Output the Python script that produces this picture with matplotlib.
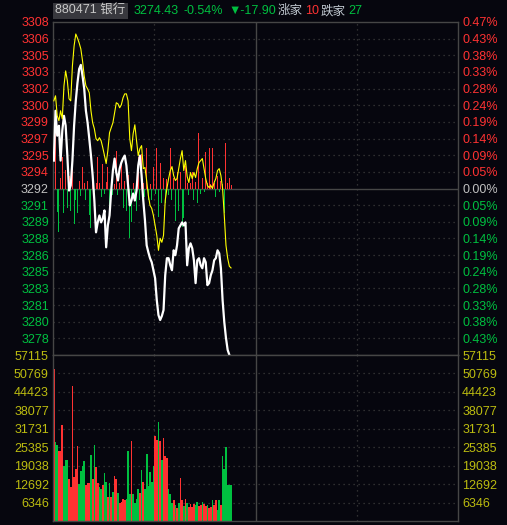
import numpy as np
import matplotlib.pyplot as plt
from matplotlib.patches import Rectangle

plt.rcParams['font.family'] = ['Liberation Sans', 'Noto Sans CJK SC', 'DejaVu Sans']

# header / scale info
code_name = "880471 银行"
last_price = "3274.43"
chg_pct = "-0.54%"
chg = "▼-17.90"
n_up = "10"
n_down = "27"
pre_close = 3292.33
top_pct = 0.473      # axis range in percent of pre close
vol_max = 57115.2
minutes_total = 240

# minute data (first 106 minutes)
price = [3294.94, 3299.60, 3297.27, 3298.20, 3294.94, 3297.74, 3299.13, 3298.20, 3295.41, 3292.14,
         3292.61, 3294.94, 3298.20, 3300.53, 3302.21, 3303.51, 3303.89, 3302.86, 3301.65, 3299.60,
         3298.48, 3296.99, 3295.41, 3293.54, 3291.21, 3288.23, 3289.16, 3289.81, 3289.16, 3289.53,
         3290.28, 3286.83, 3288.88, 3289.81, 3292.14, 3294.01, 3295.13, 3293.82, 3293.08, 3294.19,
         3294.75, 3295.13, 3295.41, 3294.47, 3292.61, 3290.75, 3291.21, 3291.86, 3291.21, 3292.14,
         3294.47, 3295.41, 3293.54, 3291.21, 3289.35, 3287.02, 3286.37, 3285.81, 3285.43, 3284.69,
         3283.94, 3281.89, 3280.49, 3280.03, 3280.40, 3280.96, 3284.22, 3285.81, 3285.81, 3285.15,
         3284.69, 3286.55, 3286.09, 3287.02, 3288.60, 3288.88, 3289.16, 3288.88, 3289.16, 3285.15,
         3286.74, 3287.20, 3286.74, 3285.62, 3283.48, 3285.62, 3285.81, 3285.15, 3284.87, 3285.81,
         3285.43, 3283.29, 3283.48, 3284.22, 3284.69, 3285.62, 3285.81, 3286.55, 3286.27, 3284.87,
         3281.89, 3279.84, 3278.35, 3277.23, 3276.77, 3274.43]

avg_line = [3300.53, 3301.00, 3299.13, 3298.67, 3299.60, 3298.85, 3301.93, 3303.33, 3302.40, 3300.72,
            3300.53, 3303.79, 3305.66, 3306.78, 3306.40, 3305.94, 3305.38, 3304.26, 3302.86, 3301.93,
            3301.65, 3301.28, 3299.60, 3298.48, 3297.92, 3296.99, 3296.80, 3297.08, 3296.80, 3296.15,
            3295.41, 3294.66, 3295.87, 3297.55, 3298.02, 3298.48, 3299.41, 3300.35, 3300.25, 3299.88,
            3300.16, 3300.81, 3301.18, 3301.18, 3300.53, 3296.99, 3295.87, 3297.46, 3298.29, 3296.80,
            3295.41, 3296.06, 3296.34, 3294.19, 3294.29, 3293.08, 3291.68, 3290.75, 3290.47, 3289.81,
            3288.88, 3287.95, 3286.55, 3287.67, 3287.30, 3287.95, 3291.21, 3292.33, 3293.26, 3294.01,
            3294.38, 3293.54, 3293.08, 3293.26, 3294.19, 3295.13, 3295.87, 3294.01, 3294.94, 3293.45,
            3292.89, 3293.82, 3293.26, 3293.82, 3293.36, 3294.19, 3294.75, 3294.94, 3295.13, 3294.19,
            3293.26, 3292.61, 3292.42, 3292.61, 3292.33, 3292.89, 3293.26, 3294.01, 3294.19, 3293.54,
            3292.33, 3289.81, 3287.02, 3285.81, 3285.06, 3284.90]

# up/down strength bars, in index points around pre close
strength = [5.9, 5.2, -2.2, -4.1, 1.0, 2.9, -2.3, 1.7, -1.8, 1.2,
            -2.1, 2.9, -3.3, -1.1, -2.3, 0.7, -0.7, 2.0, 0.5, -1.1,
            0.7, -2.5, -3.7, 1.7, -0.3, 0.5, 2.9, 0.5, -0.8, 2.3,
            -0.5, 0.6, 2.0, -1.8, 0.7, -0.6, 0.4, 3.5, -0.6, 0.5,
            2.3, -1.8, 0.7, -2.1, 1.3, -4.6, -3.1, 0.5, -0.6, -2.1,
            2.9, -1.1, 3.2, 0.5, -0.8, 3.8, -1.1, 0.4, -1.1, 2.0,
            -0.5, 3.8, -2.7, 2.4, -1.4, 1.0, -1.4, 0.9, -0.6, 3.8,
            -1.1, 1.0, -3.0, 1.5, -2.1, 1.5, -3.6, -2.8, 2.1, 0.5,
            -0.6, 0.5, 1.5, -1.1, 0.6, -1.4, 5.2, -0.5, 1.0, -0.3,
            3.4, 0.5, 3.8, 0.4, 3.8, 0.5, -0.8, 1.2, -0.3, 0.7,
            0.4, -2.3, 4.3, 0.5, 1.0, 0.3]

volume = [52190, 27290, 26270, 23980, 24210, 33120, 18840, 20900, 21130, 14280,
          11530, 46480, 15070, 17930, 25920, 12900, 17130, 19070, 20780, 12220,
          13130, 13130, 22840, 14280, 26270, 18730, 13130, 11650, 10850, 12330,
          16560, 13360, 8340, 13130, 8220, 9940, 15650, 14280, 9480, 6280,
          6510, 7420, 7080, 7420, 24210, 9140, 27410, 9140, 6050, 7650,
          10850, 9480, 17700, 13360, 10850, 23180, 11990, 16900, 13360, 19070,
          29350, 27980, 33920, 27410, 20900, 28550, 22270, 21700, 10850, 9140,
          6280, 7080, 5480, 4570, 6050, 14850, 7080, 5140, 7650, 6050,
          4800, 5710, 4800, 5710, 5370, 6620, 5140, 5480, 6510, 5710,
          5140, 5370, 4570, 4910, 7080, 5480, 7080, 3650, 7080, 5480,
          22500, 17930, 25470, 12220, 12450, 12450]
vol_dir = ("rggrrrgggr" "rrrrrggggr" "rrgrgrrggr" "ggrgrgrrgr" "rrrgggrggg"
           "grgrgggggg" "rrgrgrrrgg" "grgrgrrgrg" "rrrrggrrgr" "rgrrgrrggr"
           "gggggg")

BG = '#06060e'
RED = '#ff3232'
GREEN = '#00c040'
GRAY = '#c0c0c0'
VOLC = '#bcbc10'
LINE = '#464646'
DOT = '#3c3c3c'

W, H = 507, 525
fig = plt.figure(figsize=(W / 100, H / 100), dpi=100, facecolor=BG)


def px_axes(x0, y0, x1, y1):
    return fig.add_axes([x0 / W, 1 - y1 / H, (x1 - x0) / W, (y1 - y0) / H])


ax = px_axes(53, 22, 458, 355)
axv = px_axes(53, 355, 458, 521)

x = np.arange(len(price)) + 0.5
step = pre_close * top_pct / 100 / 10
ks = np.arange(-9, 11)
levels = pre_close + step * ks

for a in (ax, axv):
    a.set_facecolor(BG)
    a.set_xlim(0, minutes_total)
    a.set_xticks([])
    for s in a.spines.values():
        s.set_color(LINE)
        s.set_linewidth(1)
    for t, ls in ((60, (0, (1, 3))), (120, '-'), (180, (0, (1, 3)))):
        a.axvline(t, color=LINE if ls == '-' else DOT, lw=1 if ls == '-' else 0.9, ls=ls, zorder=0)

# price panel
ax.set_ylim(pre_close - 10 * step, pre_close + 10 * step)
for k, lv in zip(ks, levels):
    if k == 0:
        ax.axhline(lv, color=LINE, lw=1, zorder=0)
    elif k < 10:
        ax.axhline(lv, color=DOT, lw=0.9, ls=(0, (1, 3)), zorder=0)

strength = np.array(strength)
ax.bar(x, strength, bottom=pre_close, width=0.6,
       color=[RED if v > 0 else GREEN for v in strength], zorder=1)
ax.plot(x, price, color='white', lw=1.6, zorder=3)
ax.plot(x, avg_line, color='#ffff00', lw=0.8, zorder=4)

lab_colors = [RED if k > 0 else (GRAY if k == 0 else GREEN) for k in ks]
ax.set_yticks(levels)
ax.set_yticklabels([f"{v:.0f}" for v in levels])
ax.tick_params(axis='y', length=0, pad=3, labelsize=9)
for t, c in zip(ax.get_yticklabels(), lab_colors):
    t.set_color(c)

axr = ax.twinx()
axr.set_ylim(ax.get_ylim())
axr.set_yticks(levels)
axr.set_yticklabels([f"{abs(k) * top_pct / 10:.2f}%" for k in ks])
axr.tick_params(axis='y', length=0, pad=3, labelsize=9)
for s in axr.spines.values():
    s.set_visible(False)
for t, c in zip(axr.get_yticklabels(), lab_colors):
    t.set_color(c)

# volume panel
axv.set_ylim(0, vol_max)
vk = np.arange(1, 10)
vlev = vol_max * vk / 9
for lv in vlev[:-1]:
    axv.axhline(lv, color=DOT, lw=0.9, ls=(0, (1, 3)), zorder=0)
axv.bar(x, volume, width=1.0, linewidth=0,
        color=[RED if d == 'r' else GREEN for d in vol_dir], zorder=2)
axv.set_yticks(vlev)
axv.set_yticklabels([f"{v:.0f}" for v in vlev])
axv.tick_params(axis='y', length=0, pad=3, labelsize=9, labelcolor=VOLC)
axvr = axv.twinx()
axvr.set_ylim(axv.get_ylim())
axvr.set_yticks(vlev)
axvr.set_yticklabels([f"{v:.0f}" for v in vlev])
axvr.tick_params(axis='y', length=0, pad=3, labelsize=9, labelcolor=VOLC)
for s in axvr.spines.values():
    s.set_visible(False)

# header line
fig.patches.append(Rectangle((53 / W, 1 - 19 / H), 75 / W, 16 / H, transform=fig.transFigure,
                             facecolor='#38383e', edgecolor='none'))
hy = 1 - 11 / H
for px, s, c in ((55, code_name, '#c8c8c8'), (134, last_price, GREEN), (184, chg_pct, GREEN),
                 (228, chg, GREEN), (278, "涨家", '#c0c8d0'), (305, n_up, RED),
                 (321, "跌家", '#c0c8d0'), (348, n_down, GREEN)):
    fig.text(px / W, hy, s, color=c, fontsize=9, ha='left', va='center')

fig.savefig('out.png', dpi=100, facecolor=BG)
